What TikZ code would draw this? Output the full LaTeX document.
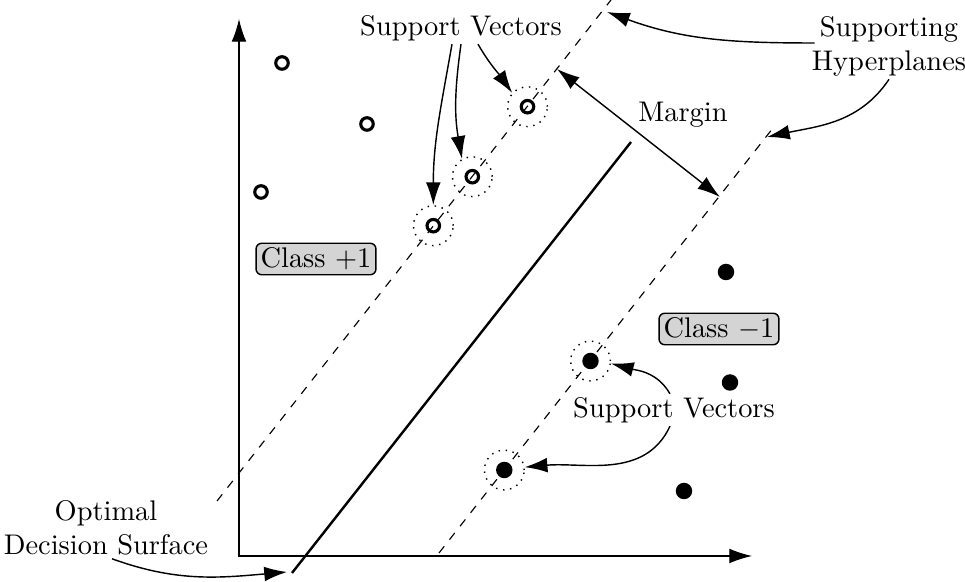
\documentclass[tikz,border=0pt]{standalone}
\usetikzlibrary{arrows.meta,calc}
\begin{document}
\begin{tikzpicture}[x=0.352pt,y=0.352pt,
  bigtip/.style={-{Latex[length=8pt,width=5.2pt]}},
  ann/.style={bigtip, line width=0.5pt},
  hyper/.style={dashed, line width=0.4pt},
  ring/.style={circle, draw, dotted, line width=0.5pt, minimum size=14pt, inner sep=0pt},
  opendot/.style={circle, draw, line width=1.1pt, minimum size=4.4pt, inner sep=0pt},
  fulldot/.style={circle, fill, minimum size=5.8pt, inner sep=0pt},
  classbox/.style={draw, fill=black!17, rounded corners=2pt, inner sep=1.6pt, line width=0.5pt},
  lbl/.style={align=center, inner sep=1pt}]
\useasboundingbox (0,0) rectangle (965,582);

% axes
\coordinate (o) at (239,26);
\coordinate (ytip) at (239,563);
\coordinate (xtip) at (752,26);
\draw[{Latex[length=8pt,width=5.2pt]}-{Latex[length=8pt,width=5.2pt]}, line width=0.4pt]
  (ytip) -- (o) -- (xtip);

% class +1 points
\node[opendot] (p1) at (282,519) {};
\node[opendot] (p2) at (367,458) {};
\node[opendot] (p3) at (261,390) {};
\node[opendot] (p4) at (527.5,475.3) {};
\node[opendot] (p5) at (472.3,405.3) {};
\node[opendot] (p6) at (433.3,356.3) {};

% class -1 points
\node[fulldot] (n1) at (726,310) {};
\node[fulldot] (n2) at (730,199.5) {};
\node[fulldot] (n3) at (684,91) {};
\node[fulldot] (n4) at (590.5,221) {};
\node[fulldot] (n5) at (504.3,112) {};

% rings around the support vectors
\node[ring] (sv1) at (p6) {};
\node[ring] (sv2) at (p5) {};
\node[ring] (sv3) at (p4) {};
\node[ring] (sv4) at (n4) {};
\node[ring] (sv5) at (n5) {};

% supporting hyperplanes and decision surface
\coordinate (u0) at (217,81);
\coordinate (u1) at (611,582);
\coordinate (l0) at (439,29);
\coordinate (l1) at (773,454);
\coordinate (d0) at (292,9);
\coordinate (d1) at (631,440);
\draw[hyper] (u0) -- (u1);
\draw[hyper] (l0) -- (l1);
\draw[line width=0.85pt] (d0) -- (d1);

% margin
\coordinate (m0) at (557,513);
\coordinate (m1) at (720,385);
\draw[{Latex[length=8pt,width=5.2pt]}-{Latex[length=8pt,width=5.2pt]}, line width=0.5pt] (m0) -- (m1);
\node[lbl] (margin) at (683,467) {Margin};

% labels
\node[lbl] (svt) at (461,554) {Support Vectors};
\node[lbl] (svb) at (674,172) {Support Vectors};
\node[lbl] (hyp) at (889,536) {Supporting\\Hyperplanes};
\node[lbl] (opt) at (106,54) {Optimal\\Decision Surface};
\node[classbox] (cp) at (316,323) {Class $+1$};
\node[classbox] (cn) at (719,253) {Class $-1$};

% annotation arrows
\draw[ann] ($(svt.south)+(-9,0)$) to[out=-100,in=90] (sv1.north);
\draw[ann] (svt.south) to[out=-98,in=100] (sv2.120);
\draw[ann] ($(svt.south)+(17,0)$) to[out=-60,in=125] (sv3.138);
\draw[ann] ($(svb.north)+(-4,0)$) to[out=120,in=-15] (sv4.-7);
\draw[ann] ($(svb.south)+(-4,0)$) to[out=-115,in=5] (sv5.8);
\coordinate (ua) at (607,570);
\coordinate (la) at (767,445);
\draw[ann] ($(hyp.west)+(6,3)$) to[out=180,in=-20] (ua);
\draw[ann] (hyp.south) to[out=-124,in=12] (la);
\draw[ann] ($(opt.south)+(6,0)$) to[out=-20,in=185] ($(d0)+(-5,1)$);
\end{tikzpicture}
\end{document}
